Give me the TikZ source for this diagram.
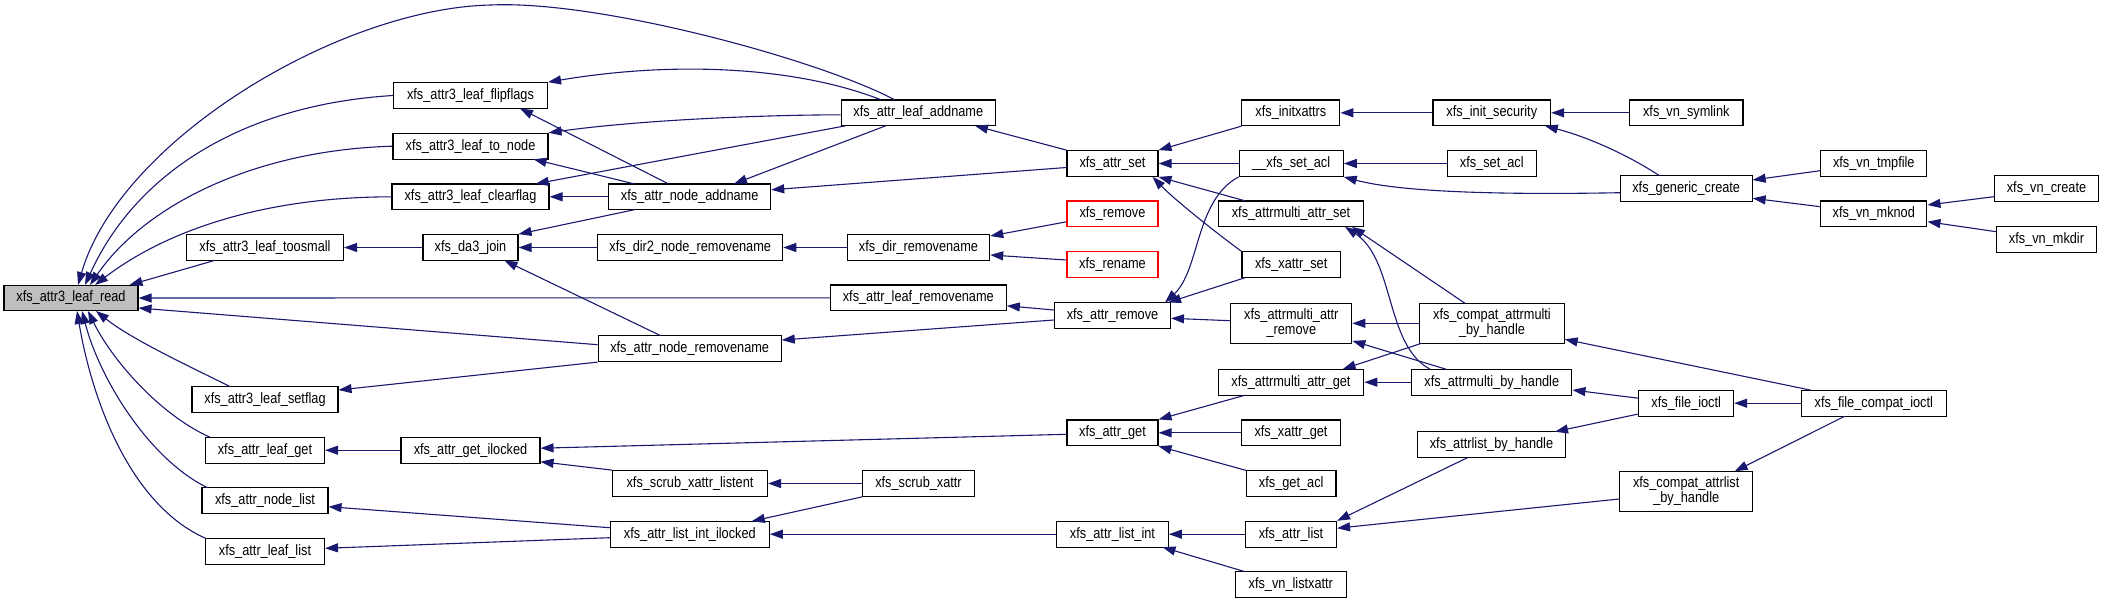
\documentclass[tikz,border=0pt]{standalone}
\usepackage{fontspec}
\setmainfont{Liberation Sans}[FakeStretch=0.85]
\usetikzlibrary{arrows.meta,calc}
\definecolor{edgec}{HTML}{191970}
\definecolor{rootfill}{HTML}{BFBFBF}
\begin{document}
\begin{tikzpicture}[x=1pt,y=-1pt,
  nd/.style={draw=black, line width=1.1pt, fill=white, minimum height=25.7pt, inner sep=2pt, font=\fontsize{15}{15}\selectfont},
  two/.style={nd, minimum height=40pt, align=center},
  root/.style={nd, fill=rootfill},
  redb/.style={nd, draw=red},
  cg/.style={draw=edgec, line width=1.1pt, -{Triangle[length=13pt,width=9pt]}}]
\useasboundingbox (0,0) rectangle (2104,603);
% column 1
\node[root, minimum width=134pt] (lr) at (71,298) {xfs\_attr3\_leaf\_read};
% column 2
\node[nd, minimum width=157pt] (ts) at (265,247.5) {xfs\_attr3\_leaf\_toosmall};
\node[nd, minimum width=146pt] (sf) at (265,399.5) {xfs\_attr3\_leaf\_setflag};
\node[nd, minimum width=119pt] (lg) at (265,450.2) {xfs\_attr\_leaf\_get};
\node[nd, minimum width=126pt] (nl) at (265,500.7) {xfs\_attr\_node\_list};
\node[nd, minimum width=119pt] (ll) at (265,551.5) {xfs\_attr\_leaf\_list};
% column 3
\node[nd, minimum width=154pt] (ff) at (470.5,95.5) {xfs\_attr3\_leaf\_flipflags};
\node[nd, minimum width=155pt] (tn) at (470.5,146.2) {xfs\_attr3\_leaf\_to\_node};
\node[nd, minimum width=157pt] (cf) at (470.5,196.8) {xfs\_attr3\_leaf\_clearflag};
\node[nd, minimum width=95pt] (dj) at (470.5,247.5) {xfs\_da3\_join};
\node[nd, minimum width=139pt] (gi) at (470.5,450.2) {xfs\_attr\_get\_ilocked};
% column 4
\node[nd, minimum width=162pt] (na) at (689.7,196.8) {xfs\_attr\_node\_addname};
\node[nd, minimum width=185pt] (dn) at (690.2,247.5) {xfs\_dir2\_node\_removename};
\node[nd, minimum width=183pt] (nr) at (689.7,348.7) {xfs\_attr\_node\_removename};
\node[nd, minimum width=155pt] (sl) at (690,483.5) {xfs\_scrub\_xattr\_listent};
\node[nd, minimum width=159pt] (li) at (689.8,534.2) {xfs\_attr\_list\_int\_ilocked};
% column 5
\node[nd, minimum width=154.5pt] (la) at (918.3,112.8) {xfs\_attr\_leaf\_addname};
\node[nd, minimum width=142.4pt] (dr) at (918.5,247.5) {xfs\_dir\_removename};
\node[nd, minimum width=176pt] (lrm) at (918.3,297.8) {xfs\_attr\_leaf\_removename};
\node[nd, minimum width=112pt] (sx) at (918.5,483.5) {xfs\_scrub\_xattr};
% column 6
\node[nd, minimum width=91pt] (as) at (1112.5,163.5) {xfs\_attr\_set};
\node[redb, minimum width=91pt] (rm) at (1112.5,213.8) {xfs\_remove};
\node[redb, minimum width=91pt] (rn) at (1112.5,264.7) {xfs\_rename};
\node[nd, minimum width=116pt] (ar) at (1112.5,315.5) {xfs\_attr\_remove};
\node[nd, minimum width=91pt] (ag) at (1112.5,432.8) {xfs\_attr\_get};
\node[nd, minimum width=111.6pt] (ali) at (1112.5,534.2) {xfs\_attr\_list\_int};
% column 7
\node[nd, minimum width=98pt] (ix) at (1290.9,112.8) {xfs\_initxattrs};
\node[nd, minimum width=104pt] (xsa) at (1291.2,163.5) {\_\_xfs\_set\_acl};
\node[nd, minimum width=145.5pt] (mas) at (1291,213.8) {xfs\_attrmulti\_attr\_set};
\node[nd, minimum width=98.4pt] (xs) at (1291.2,264.7) {xfs\_xattr\_set};
\node[two, minimum width=121pt] (mar) at (1291.3,323.3) {xfs\_attrmulti\_attr\\\_remove};
\node[nd, minimum width=145.5pt] (mag) at (1291,382.2) {xfs\_attrmulti\_attr\_get};
\node[nd, minimum width=99pt] (xg) at (1291,432.8) {xfs\_xattr\_get};
\node[nd, minimum width=89.6pt] (ga) at (1291.2,483.5) {xfs\_get\_acl};
\node[nd, minimum width=91pt] (al) at (1291,534.2) {xfs\_attr\_list};
\node[nd, minimum width=111pt] (vl) at (1290.8,584.2) {xfs\_vn\_listxattr};
% column 8
\node[nd, minimum width=117.6pt] (is) at (1491.8,112.8) {xfs\_init\_security};
\node[nd, minimum width=89.3pt] (sa) at (1491.8,163.5) {xfs\_set\_acl};
\node[two, minimum width=144.3pt] (cm) at (1492,323.3) {xfs\_compat\_attrmulti\\\_by\_handle};
\node[nd, minimum width=160.2pt] (mb) at (1491.8,382.2) {xfs\_attrmulti\_by\_handle};
\node[nd, minimum width=148.7pt] (lb) at (1491.5,444.5) {xfs\_attrlist\_by\_handle};
% column 9
\node[nd, minimum width=113.3pt] (vs) at (1686.3,112.8) {xfs\_vn\_symlink};
\node[nd, minimum width=131.8pt] (gc) at (1686.2,188.7) {xfs\_generic\_create};
\node[nd, minimum width=94.8pt] (fi) at (1686.2,403.2) {xfs\_file\_ioctl};
\node[two, minimum width=132.9pt] (cl) at (1686.2,491.3) {xfs\_compat\_attrlist\\\_by\_handle};
% column 10
\node[nd, minimum width=106.2pt] (vt) at (1873.8,163.5) {xfs\_vn\_tmpfile};
\node[nd, minimum width=106.2pt] (mk) at (1873.8,213.8) {xfs\_vn\_mknod};
\node[nd, minimum width=145.5pt] (fc) at (1873.8,403.2) {xfs\_file\_compat\_ioctl};
% column 11
\node[nd, minimum width=104pt] (vc) at (2046.5,188.7) {xfs\_vn\_create};
\node[nd, minimum width=99.6pt] (vd) at (2046.5,239.5) {xfs\_vn\_mkdir};

% edges into xfs_attr3_leaf_read
\draw[cg] ($(la)+(-23.7,-13)$) .. controls (820,60) and (600,0) .. (491,5)
   .. controls (340,8) and (120,140) .. ($(lr)+(7,-13)$);
\draw[cg] (ff.west) .. controls (240,105) and (135,175) .. ($(lr)+(14,-13)$);
\draw[cg] (tn.west) .. controls (255,150) and (145,205) .. ($(lr)+(19,-13)$);
\draw[cg] (cf.west) .. controls (255,197) and (160,235) .. ($(lr)+(24,-13)$);
\draw[cg] ($(ts)+(-50.7,13)$) -- ($(lr)+(58.5,-13)$);
\draw[cg] (lrm.west) -- (lr.east);
\draw[cg] ($(nr.west)+(0,-4)$) -- ($(lr.east)+(0,10)$);
\draw[cg] ($(sf)+(-35,-13)$) .. controls (180,362) and (130,338) .. ($(lr)+(25,13)$);
\draw[cg] ($(lg)+(-55,-13)$) .. controls (160,415) and (112,360) .. ($(lr)+(17,13)$);
\draw[cg] ($(nl)+(-57.4,-13)$) .. controls (150,460) and (100,380) .. ($(lr)+(11,13)$);
\draw[cg] ($(ll)+(-59,-13)$) .. controls (130,505) and (92,400) .. ($(lr)+(6,13)$);

% middle left
\draw[cg] ($(la)+(-37.3,-13)$) .. controls (800,68) and (680,60) .. (ff.north east);
\draw[cg] ($(na)+(-21.4,-13)$) -- ($(ff)+(49.5,13)$);
\draw[cg] ($(la.west)+(0,2)$) .. controls (760,115) and (640,120) .. (tn.north east);
\draw[cg] ($(na)+(-55.7,-13)$) -- ($(tn)+(63,13)$);
\draw[cg] ($(la)+(-72.8,13)$) -- ($(cf)+(65.2,-13)$);
\draw[cg] (na.west) -- (cf.east);
\draw[cg] ($(na)+(-55.7,13)$) -- (dj.north east);
\draw[cg] (dj.west) -- (ts.east);
\draw[cg] (dn.west) -- (dj.east);
\draw[cg] ($(nr)+(-29,-13)$) -- ($(dj)+(34,13)$);
\draw[cg] ($(la)+(-32.6,13)$) -- ($(na)+(44.3,-13)$);
\draw[cg] (as.north west) -- ($(la)+(56.7,13)$);
\draw[cg] ($(as.west)+(0,4)$) -- ($(na.east)+(0,-7)$);
\draw[cg] (dr.west) -- (dn.east);
\draw[cg] ($(rm.west)+(0,8)$) -- ($(dr.east)+(0,-11.5)$);
\draw[cg] ($(rn.west)+(0,-4.7)$) -- ($(dr.east)+(0,7.5)$);
\draw[cg] ($(ar.west)+(0,-5.5)$) -- ($(lrm.east)+(0,8)$);
\draw[cg] ($(ar.west)+(0,4.5)$) -- ($(nr.east)+(0,-8.7)$);
\draw[cg] (nr.south west) -- ($(sf.east)+(0,-9.5)$);

% attr_set / attr_remove callers
\draw[cg] (ix.south west) -- (as.north east);
\draw[cg] (xsa.west) -- (as.east);
\draw[cg] ($(mas)+(-46,-13)$) -- (as.south east);
\draw[cg] (xs.north west) .. controls (1215,232) and (1175,200) .. ($(as.south east)+(-6,0)$);
\draw[cg] (xsa.south west) .. controls (1195,200) and (1200,270) .. ($(ar)+(52.5,-13)$);
\draw[cg] ($(xs)+(-46.2,13)$) -- ($(ar)+(55.5,-13)$);
\draw[cg] ($(mar.west)+(0,-2.6)$) -- ($(ar.east)+(0,2.8)$);

% right upper
\draw[cg] (is.west) -- (ix.east);
\draw[cg] (vs.west) -- (is.east);
\draw[cg] ($(gc)+(-26.7,-13)$) .. controls (1620,150) and (1580,135) .. ($(is)+(53,13)$);
\draw[cg] (sa.west) -- (xsa.east);
\draw[cg] ($(gc.west)+(0,4)$) .. controls (1500,195) and (1400,192) .. (xsa.south east);
\draw[cg] ($(vt.west)+(0,7.2)$) -- ($(gc.east)+(0,-8.7)$);
\draw[cg] ($(mk.west)+(0,-7.1)$) -- ($(gc.east)+(0,9.6)$);
\draw[cg] ($(vc.west)+(0,8)$) -- ($(mk.east)+(0,-8.8)$);
\draw[cg] ($(vd.west)+(0,-7.8)$) -- ($(mk.east)+(0,7.9)$);

% attrmulti
\draw[cg] ($(cm)+(-27,-20)$) -- ($(mas)+(61,13)$);
\draw[cg] ($(mb)+(-61.8,-13)$) .. controls (1385,345) and (1395,260) .. ($(mas)+(54,13)$);
\draw[cg] (cm.west) -- (mar.east);
\draw[cg] ($(mb)+(-45.8,-13)$) -- ($(mar.south east)+(0,-3)$);
\draw[cg] ($(cm)+(-70.5,20)$) -- ($(mag)+(51.6,-13)$);
\draw[cg] (mb.west) -- (mag.east);

% attr_get
\draw[cg] ($(mag)+(-46,13)$) -- (ag.north east);
\draw[cg] (xg.west) -- (ag.east);
\draw[cg] ($(ga)+(-44.8,-13)$) -- (ag.south east);
\draw[cg] ($(ag.west)+(0,1.5)$) -- ($(gi.east)+(0,-2)$);
\draw[cg] (sl.north west) -- ($(gi.east)+(0,11.5)$);
\draw[cg] (gi.west) -- (lg.east);

% listing
\draw[cg] (sx.west) -- (sl.east);
\draw[cg] (sx.south west) -- ($(li)+(62,-13)$);
\draw[cg] (ali.west) -- (li.east);
\draw[cg] ($(li.west)+(0,-6.5)$) -- ($(nl.east)+(0,6)$);
\draw[cg] ($(li.west)+(0,3.5)$) -- ($(ll.east)+(0,-3.2)$);
\draw[cg] (al.west) -- (ali.east);
\draw[cg] ($(vl)+(-45.8,-12.5)$) -- ($(ali)+(50,13)$);
\draw[cg] ($(lb)+(-23.7,13)$) -- (al.north east);
\draw[cg] ($(cl.west)+(0,7.7)$) -- ($(al.east)+(0,-6)$);

% ioctl
\draw[cg] ($(fi.west)+(0,-5)$) -- ($(mb.east)+(0,7.8)$);
\draw[cg] ($(fi.west)+(0,10.8)$) -- ($(lb)+(63.5,-12.8)$);
\draw[cg] (fc.west) -- (fi.east);
\draw[cg] ($(fc)+(-62.8,-13)$) -- ($(cm.east)+(0,16)$);
\draw[cg] ($(fc)+(-29,13)$) -- ($(cl)+(48.5,-20)$);
\end{tikzpicture}
\end{document}
